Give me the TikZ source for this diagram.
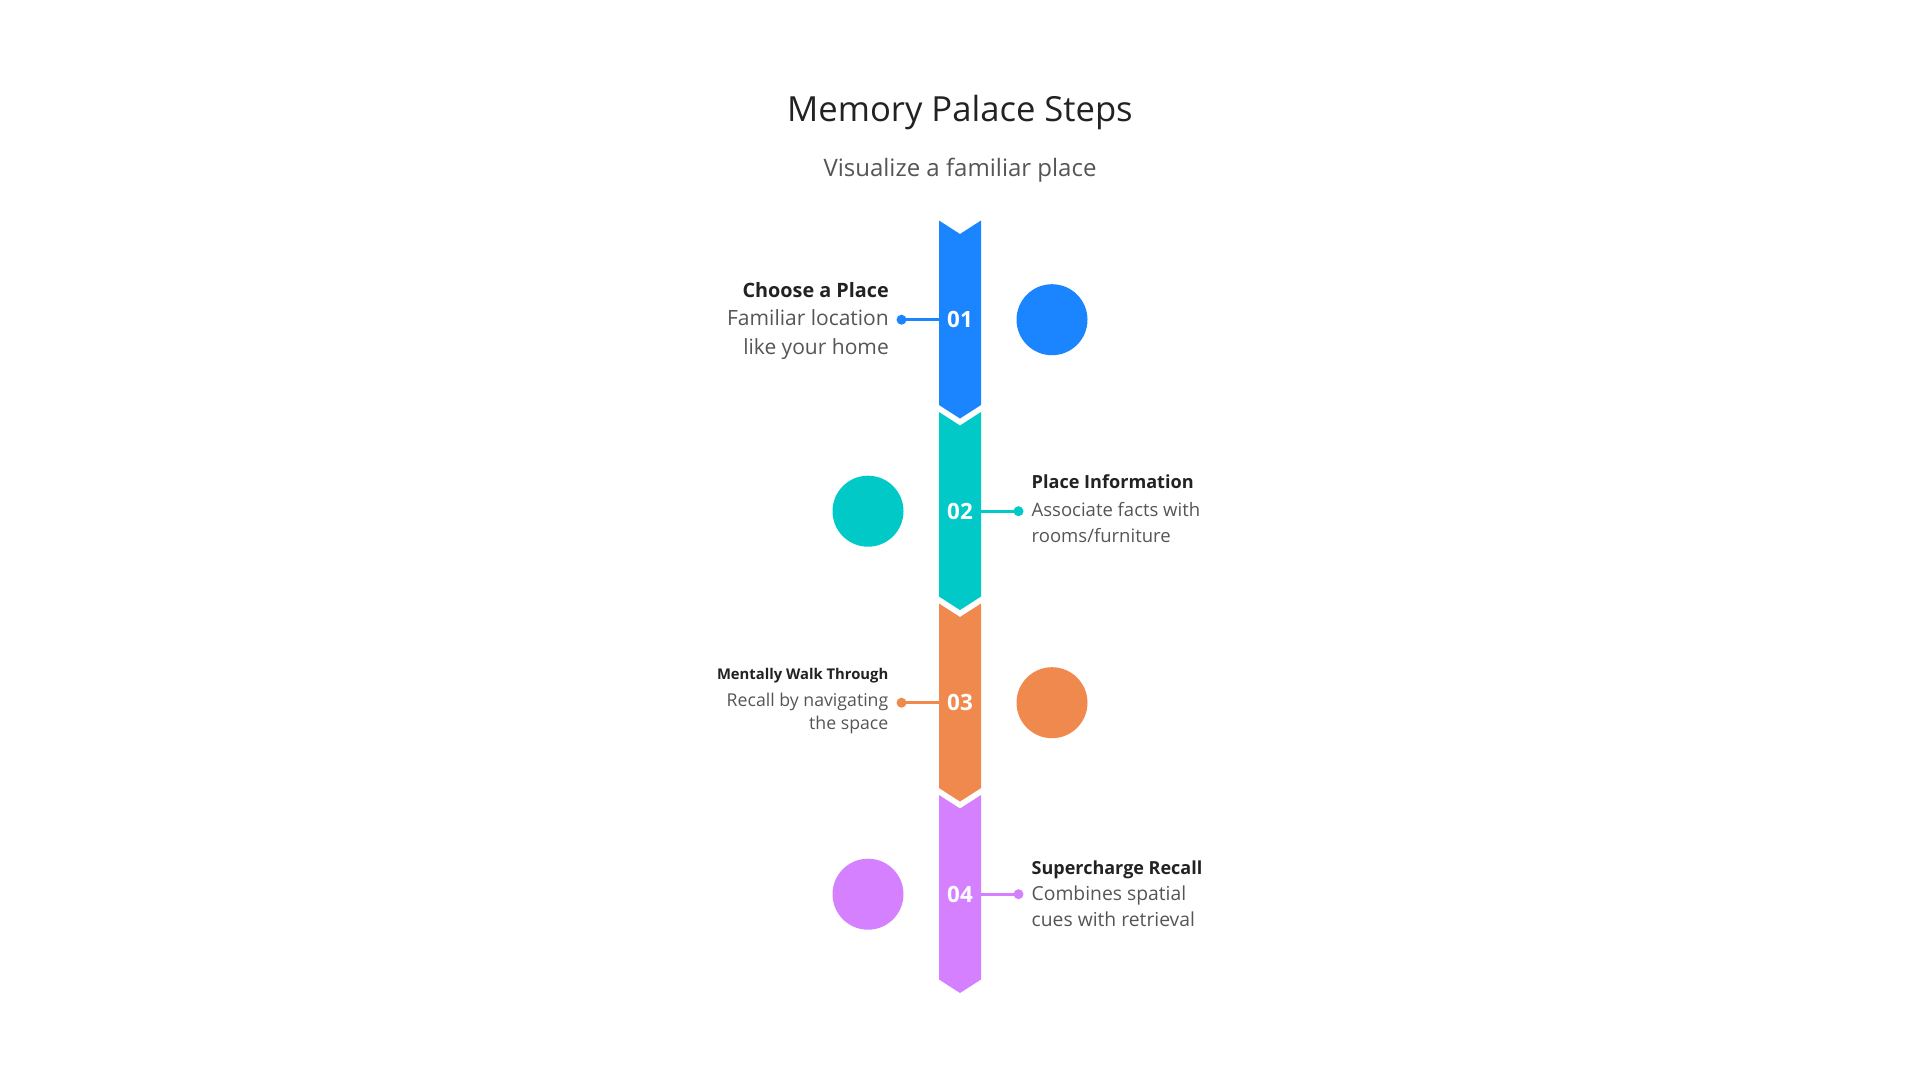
\documentclass[tikz,border=0pt]{standalone}
\usepackage{fontspec}
\setmainfont{Open Sans}
\definecolor{cblue}{HTML}{1A85FF}
\definecolor{cteal}{HTML}{00C9C8}
\definecolor{corange}{HTML}{F0894D}
\definecolor{cpurple}{HTML}{D580FF}
\definecolor{ctitle}{HTML}{222222}
\definecolor{csub}{HTML}{555555}
\tikzset{
  seg/.style={fill=#1, draw=none},
  num/.style={text=white, font=\bfseries\fontsize{22.4}{26}\selectfont, inner sep=0pt},
  bigdot/.style={circle, fill=#1, minimum size=71pt, inner sep=0pt},
  smalldot/.style={circle, fill=#1, minimum size=10pt, inner sep=0pt},
  link/.style={draw=#1, line width=2.6pt},
  steptitle/.style={text=ctitle, inner sep=0pt},
  stepbody/.style={text=csub, inner sep=0pt},
}
\begin{document}
\begin{tikzpicture}[x=1pt,y=-1pt]
\useasboundingbox (0,0) rectangle (1920,1080);
% title
\node[text=ctitle, font=\fontsize{34.6}{40}\selectfont, anchor=base, inner sep=0pt] (title) at (960,121.7) {Memory Palace Steps};
\node[text=csub, font=\fontsize{24}{28}\selectfont, anchor=base, inner sep=0pt] (subtitle) at (960,176) {Visualize a familiar place};
% segments
\fill[seg=cblue]   (939,220.5) -- (960,234) -- (981,220.5) -- (981,405) -- (960,418.5) -- (939,405) -- cycle;
\fill[seg=cteal]   (939,412) -- (960,425.5) -- (981,412) -- (981,596.5) -- (960,610) -- (939,596.5) -- cycle;
\fill[seg=corange] (939,603.5) -- (960,617) -- (981,603.5) -- (981,788) -- (960,801.5) -- (939,788) -- cycle;
\fill[seg=cpurple] (939,795) -- (960,808.5) -- (981,795) -- (981,979.5) -- (960,993) -- (939,979.5) -- cycle;
% numbers
\node[num] (n1) at (960,319.7) {01};
\node[num] (n2) at (960,511.2) {02};
\node[num] (n3) at (960,702.7) {03};
\node[num] (n4) at (960,894.2) {04};
% big circles
\node[bigdot=cblue]   (c1) at (1052,319.7) {};
\node[bigdot=cteal]   (c2) at (868,511.2) {};
\node[bigdot=corange] (c3) at (1052,702.7) {};
\node[bigdot=cpurple] (c4) at (868,894.2) {};
% connectors
\coordinate (e1) at (939,319.7);
\coordinate (e2) at (981,511.2);
\coordinate (e3) at (939,702.7);
\coordinate (e4) at (981,894.2);
\node[smalldot=cblue]   (d1) at (901.5,319.7) {};
\node[smalldot=cteal]   (d2) at (1018.5,511.2) {};
\node[smalldot=corange] (d3) at (901.5,702.7) {};
\node[smalldot=cpurple] (d4) at (1018.5,894.2) {};
\draw[link=cblue]   (d1.center) -- (e1);
\draw[link=cteal]   (d2.center) -- (e2);
\draw[link=corange] (d3.center) -- (e3);
\draw[link=cpurple] (d4.center) -- (e4);
% step 1 text
\node[steptitle, anchor=base east, font=\bfseries\fontsize{19.8}{24}\selectfont] (t1) at (889,297.3) {Choose a Place};
\node[stepbody, anchor=base east, font=\fontsize{21}{24}\selectfont] (b1a) at (889,325.7) {Familiar location};
\node[stepbody, anchor=base east, font=\fontsize{21}{24}\selectfont] (b1b) at (889,354) {like your home};
% step 2 text
\node[steptitle, anchor=base west, font=\bfseries\fontsize{18.1}{21}\selectfont] (t2) at (1031.5,488.3) {Place Information};
\node[stepbody, anchor=base west, font=\fontsize{18.5}{21}\selectfont] (b2a) at (1031.5,516.7) {Associate facts with};
\node[stepbody, anchor=base west, font=\fontsize{18.5}{21}\selectfont] (b2b) at (1031.5,542.7) {rooms/furniture};
% step 3 text
\node[steptitle, anchor=base east, font=\bfseries\fontsize{14.8}{17}\selectfont] (t3) at (888.5,679) {Mentally Walk Through};
\node[stepbody, anchor=base east, font=\fontsize{17.7}{20}\selectfont] (b3a) at (888.5,706) {Recall by navigating};
\node[stepbody, anchor=base east, font=\fontsize{17.7}{20}\selectfont] (b3b) at (888.5,729.3) {the space};
% step 4 text
\node[steptitle, anchor=base west, font=\bfseries\fontsize{18}{21}\selectfont] (t4) at (1031.5,874.3) {Supercharge Recall};
\node[stepbody, anchor=base west, font=\fontsize{19.3}{22}\selectfont] (b4a) at (1031.5,900) {Combines spatial};
\node[stepbody, anchor=base west, font=\fontsize{19.3}{22}\selectfont] (b4b) at (1031.5,926.7) {cues with retrieval};
\end{tikzpicture}
\end{document}
